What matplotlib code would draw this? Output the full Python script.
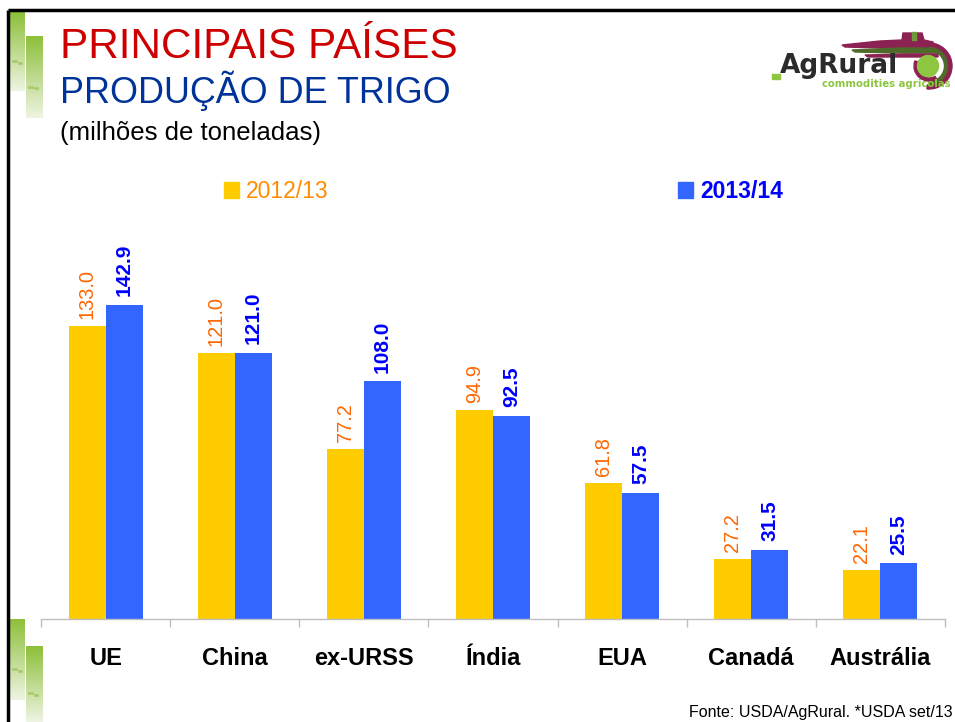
import numpy as np
import matplotlib
matplotlib.use("Agg")
import matplotlib.pyplot as plt
from matplotlib.patches import Rectangle, Circle, Polygon, Wedge
from matplotlib.colors import LinearSegmentedColormap

plt.rcParams['font.family'] = ['Liberation Sans', 'DejaVu Sans']

categories = ["UE", "China", "ex-URSS", "Índia", "EUA", "Canadá", "Austrália"]
series_names = ["2012/13", "2013/14"]
prod_2012 = [133.0, 121.0, 77.2, 94.9, 61.8, 27.2, 22.1]
prod_2013 = [142.9, 121.0, 108.0, 92.5, 57.5, 31.5, 25.5]

W, H = 955, 722
fig = plt.figure(figsize=(W / 100, H / 100), dpi=100)
fig.patch.set_facecolor("white")

# Overlay axes in pixel coordinates for decorations
deco = fig.add_axes([0, 0, 1, 1], zorder=0)
deco.set_xlim(0, W)
deco.set_ylim(H, 0)
deco.axis("off")

# borders
deco.plot([8, W], [10, 10], color="black", lw=2.5, solid_capstyle="butt")
deco.plot([8, 8], [10, H], color="black", lw=2.5, solid_capstyle="butt")

# green gradient bars
grad = np.linspace(0, 1, 100).reshape(-1, 1)
gcmap = LinearSegmentedColormap.from_list("g", ["#8DC03A", "#EEF4E2"])
for (x0, x1, y0, y1) in [(10, 24, 12, 91), (26, 43, 36, 118),
                         (10, 24, 619, 700), (26, 43, 646, 722)]:
    deco.imshow(grad, extent=(x0, x1, y1, y0), cmap=gcmap, aspect="auto", zorder=1)
    deco.plot([x0 + 3, x0 + 5.5], [y0 + (y1 - y0) * 0.62] * 2, color="#A9CC6E", lw=2, zorder=2)
    deco.plot([x0 + 8.5, x0 + 11], [y0 + (y1 - y0) * 0.64] * 2, color="#A9CC6E", lw=2, zorder=2)

# titles
fig.text(60 / W, 1 - 58 / H, "PRINCIPAIS PAÍSES", color="#CC0000", fontsize=30.4, va="baseline")
fig.text(60 / W, 1 - 103 / H, "PRODUÇÃO DE TRIGO", color="#003399", fontsize=25.8, va="baseline")
fig.text(60 / W, 1 - 140 / H, "(milhões de toneladas)", color="black", fontsize=18.5, va="baseline")

# logo
maroon, olive, lgreen = "#8B2252", "#4F6B2A", "#8DC63F"
deco.add_patch(Polygon([[842, 45], [880, 41], [902, 40], [903, 33], [922, 33], [924, 40],
                        [933, 42], [934, 49], [880, 48], [845, 47]],
                       closed=True, color=maroon, zorder=3))
deco.add_patch(Rectangle((912, 32), 4, 8, color="#6E9A3A", zorder=4))
deco.add_patch(Polygon([[852, 50], [900, 48], [938, 48], [938, 53], [900, 53], [855, 52]],
                       closed=True, color=olive, zorder=3))
deco.add_patch(Polygon([[865, 55], [905, 54], [938, 54], [938, 57], [905, 57], [868, 57]],
                       closed=True, color=maroon, zorder=3))
deco.add_patch(Wedge((929, 66), 23, -95, 95, width=4, color=maroon, zorder=3))
deco.add_patch(Wedge((929, 66), 18.5, -90, 90, width=3, color=olive, zorder=3))
deco.add_patch(Wedge((929, 66), 15, 60, 200, width=3, color=maroon, zorder=3))
deco.add_patch(Circle((928, 66), 10.5, color=lgreen, zorder=4))
deco.add_patch(Rectangle((772, 74), 8, 5, color=lgreen, zorder=3))
deco.text(780, 73, "AgRural", fontsize=19, color="#2B2B2B", va="baseline", ha="left",
          fontweight="bold", family=["DejaVu Sans"], zorder=5)
deco.text(951, 87, "commodities agricolas", fontsize=7.3, color=lgreen, va="baseline", ha="right",
          fontweight="bold", family=["DejaVu Sans"], zorder=5)

# chart axes
ax_left, ax_right = 41, 945
ax_bottom = 619
ymax = 160
px_per_unit = 2.2
ax_top = ax_bottom - ymax * px_per_unit
ax = fig.add_axes([ax_left / W, 1 - ax_bottom / H, (ax_right - ax_left) / W, (ax_bottom - ax_top) / H],
                  zorder=2)
ax.patch.set_alpha(0)

x = np.arange(len(categories))
bw = 0.287
c1, c2 = "#FFCC00", "#3366FF"
b1 = ax.bar(x - bw / 2, prod_2012, bw, color=c1, label=series_names[0])
b2 = ax.bar(x + bw / 2, prod_2013, bw, color=c2, label=series_names[1])

for rect, v in zip(b1, prod_2012):
    ax.annotate(f"{v:.1f}", (rect.get_x() + rect.get_width() / 2, v), xytext=(0, 5),
                textcoords="offset points", rotation=90, ha="center", va="bottom",
                color="#FF6600", fontsize=14.4)
for rect, v in zip(b2, prod_2013):
    ax.annotate(f"{v:.1f}", (rect.get_x() + rect.get_width() / 2, v), xytext=(0, 6),
                textcoords="offset points", rotation=90, ha="center", va="bottom",
                color="#0000FF", fontsize=15, fontweight="bold")

ax.set_xlim(-0.5, len(categories) - 0.5)
ax.set_ylim(0, ymax)
for s in ["top", "right", "left"]:
    ax.spines[s].set_visible(False)
ax.spines["bottom"].set_color("#BFBFBF")
ax.spines["bottom"].set_linewidth(1)
ax.set_yticks([])
ax.set_xticks(x)
ax.set_xticklabels(categories, fontsize=17, fontweight="bold")
ax.tick_params(axis="x", which="major", length=0, pad=20)
ax.set_xticks(np.arange(-0.5, len(categories)), minor=True)
ax.tick_params(axis="x", which="minor", length=6, color="#BFBFBF", width=1)

# legend (manual, figure pixel coords)
deco.add_patch(Rectangle((224, 182), 15, 16, color=c1, zorder=3))
deco.text(246, 198, series_names[0], color="#FF8C00", fontsize=16.5, va="baseline", ha="left")
deco.add_patch(Rectangle((678, 182), 15, 16, color=c2, zorder=3))
deco.text(700, 198, series_names[1], color="#0000FF", fontsize=16.5, va="baseline", ha="left",
          fontweight="bold")

# source
fig.text(953 / W, 1 - 717 / H, "Fonte: USDA/AgRural. *USDA set/13", fontsize=11.5,
         color="black", ha="right", va="baseline")

fig.savefig("out.png", dpi=100)
